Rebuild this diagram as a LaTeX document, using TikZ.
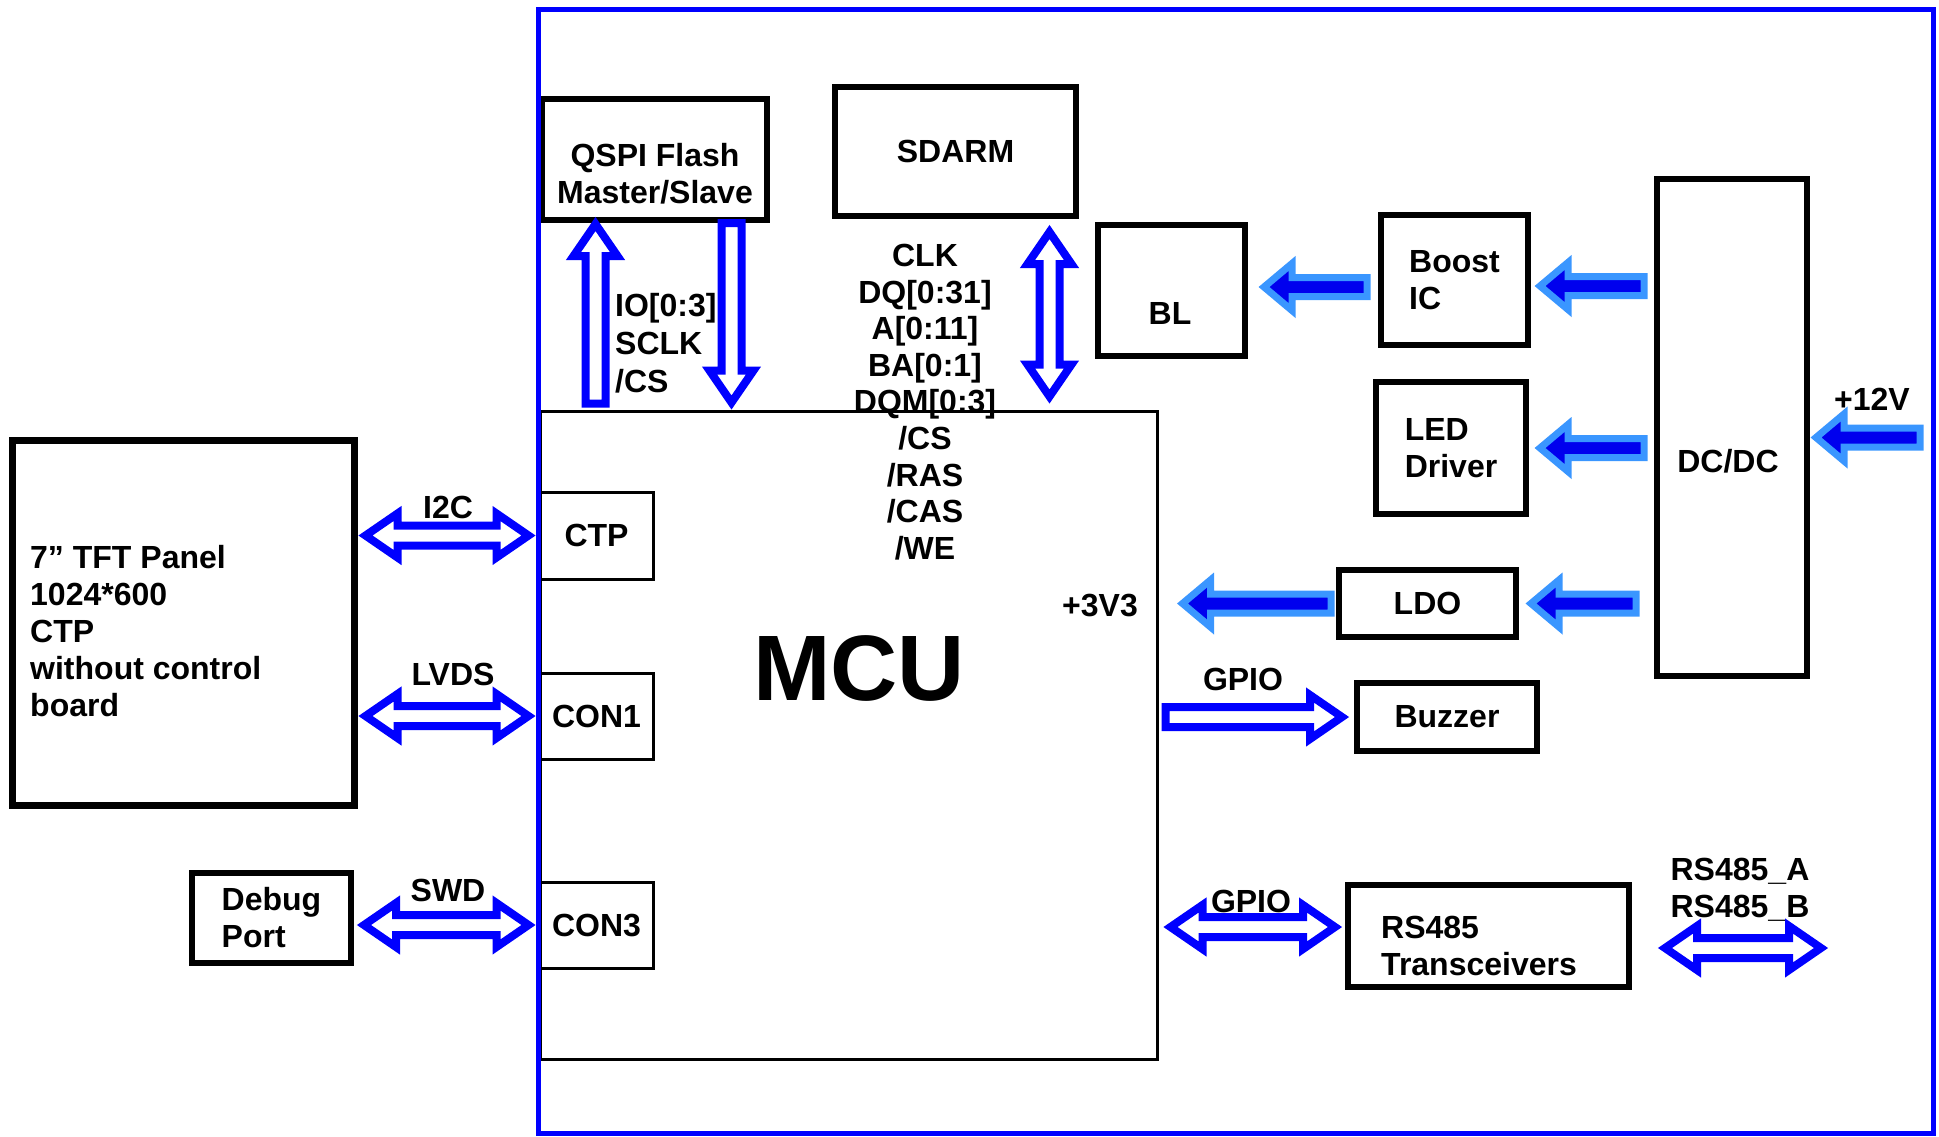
\documentclass[tikz,border=0pt]{standalone}
\usepackage{fontspec}
\setmainfont{Liberation Sans}
\usetikzlibrary{calc}

\definecolor{frameblue}{RGB}{0,0,255}
\definecolor{pwrdark}{RGB}{0,0,238}
\definecolor{pwrlight}{RGB}{58,150,255}

\tikzset{
  blk shaft/.store in=\blkA, blk head/.store in=\blkB, blk len/.store in=\blkH,
  blk shaft=10pt, blk head=22pt, blk len=32pt,
  % block arrow with a head at both ends
  dblarrow/.style={to path={
    ($(\tikztostart)!\blkH!(\tikztotarget)$) coordinate (ba-m1)
    ($(\tikztotarget)!\blkH!(\tikztostart)$) coordinate (ba-m2)
    (\tikztostart)
    -- ($(ba-m1)!\blkB!90:(\tikztotarget)$)
    -- ($(ba-m1)!\blkA!90:(\tikztotarget)$)
    -- ($(ba-m2)!\blkA!-90:(\tikztostart)$)
    -- ($(ba-m2)!\blkB!-90:(\tikztostart)$)
    -- (\tikztotarget)
    -- ($(ba-m2)!\blkB!90:(\tikztostart)$)
    -- ($(ba-m2)!\blkA!90:(\tikztostart)$)
    -- ($(ba-m1)!\blkA!-90:(\tikztotarget)$)
    -- ($(ba-m1)!\blkB!-90:(\tikztotarget)$)
    -- cycle}},
  % block arrow, head at the target only
  sglarrow/.style={to path={
    ($(\tikztotarget)!\blkH!(\tikztostart)$) coordinate (ba-m2)
    (\tikztostart)
    -- ($(\tikztostart)!\blkA!90:(\tikztotarget)$)
    -- ($(ba-m2)!\blkA!-90:(\tikztostart)$)
    -- ($(ba-m2)!\blkB!-90:(\tikztostart)$)
    -- (\tikztotarget)
    -- ($(ba-m2)!\blkB!90:(\tikztostart)$)
    -- ($(ba-m2)!\blkA!90:(\tikztostart)$)
    -- ($(\tikztostart)!\blkA!-90:(\tikztotarget)$)
    -- cycle}},
  hollow/.style={draw=frameblue, fill=white, line width=8},
  power/.style={draw=pwrlight, fill=pwrdark, line width=7,
    blk shaft=9.5pt, blk head=23.5pt, blk len=28pt},
  lbl/.style={font=\bfseries\fontsize{32}{37}\selectfont, inner sep=0pt},
  thickbox/.style={draw, line width=6, inner sep=0pt, lbl},
  thinbox/.style={draw, line width=3, inner sep=0pt, lbl},
}

\begin{document}
\begin{tikzpicture}[x=1pt, y=-1pt]
    \useasboundingbox (0,0) rectangle (1939,1136);

    % blocks
    \node[thickbox, minimum width=225, minimum height=121] (qspi) at (654.5,159.5) {};
    \node[thickbox, minimum width=241, minimum height=129] (sdram) at (955.5,151.5) {SDARM};
    \node[thinbox, minimum width=617, minimum height=648] (mcu) at (848.5,735) {};
    \node[thinbox, minimum width=113, minimum height=87] (ctp) at (596.5,535.5) {CTP};
    \node[thinbox, minimum width=113, minimum height=86] (con1) at (596.5,716) {CON1};
    \node[thinbox, minimum width=113, minimum height=86] (con3) at (596.5,925) {CON3};
    \node[thickbox, line width=7, minimum width=342, minimum height=365] (tft) at (183,622.5) {};
    \node[thickbox, minimum width=159, minimum height=90, align=left] (dbg) at (271.5,918) {Debug\\Port};
    \node[thickbox, minimum width=147, minimum height=131] (bl) at (1171.5,290.5) {};
    \node[thickbox, minimum width=147, minimum height=130, align=left] (boost) at (1454.5,280) {Boost\\IC};
    \node[thickbox, minimum width=150, minimum height=132, align=left] (led) at (1451,448) {LED\\Driver};
    \node[thickbox, minimum width=177, minimum height=67] (ldo) at (1427.5,603.5) {LDO};
    \node[thickbox, minimum width=150, minimum height=497] (dcdc) at (1732,427.5) {};
    \node[thickbox, minimum width=180, minimum height=68] (buzzer) at (1447,717) {Buzzer};
    \node[thickbox, minimum width=281, minimum height=102] (rs485) at (1488.5,936) {};

    % texts
    \node[lbl, align=center] at (655,174) {QSPI Flash\\Master/Slave};
    \node[lbl] at (1170,313) {BL};
    \node[lbl] at (1728,461) {DC/DC};
    \node[lbl, align=left, anchor=west] at (30,631) {7” TFT Panel\\1024*600\\CTP\\without control\\board};
    \node[lbl, align=left, anchor=west] at (1381,946) {RS485\\Transceivers};
    \node[font=\bfseries\fontsize{93}{100}\selectfont, inner sep=0pt] at (859,668) {MCU};
    \node[lbl, align=left, anchor=west, font=\bfseries\fontsize{32}{38}\selectfont] at (615,343) {IO[0:3]\\SCLK\\/CS};
    \node[lbl, align=center, font=\bfseries\fontsize{32}{36.6}\selectfont] at (925,402) {CLK\\DQ[0:31]\\A[0:11]\\BA[0:1]\\DQM[0:3]\\/CS\\/RAS\\/CAS\\/WE};
    \node[lbl] at (1100,605) {+3V3};
    \node[lbl] at (1872,399) {+12V};
    \node[lbl, align=center] at (1740,890) {RS485\_A\\RS485\_B};
    \node[lbl] at (1243,679) {GPIO};
    \node[lbl] at (1251,901) {GPIO};
    \node[lbl] at (448,507) {I2C};
    \node[lbl] at (453,674) {LVDS};
    \node[lbl] at (448,890) {SWD};

    % board outline
    \draw[frameblue, line width=5] (538,9) rectangle (1933,1133);

    % arrow ends
    \coordinate (i2c-l) at ([xshift=8]tft.east |- ctp.west);
    \coordinate (i2c-r) at ([xshift=-10]ctp.west);
    \coordinate (lvds-l) at ([xshift=8]tft.east |- con1.west);
    \coordinate (lvds-r) at ([xshift=-10]con1.west);
    \coordinate (swd-l) at ([xshift=10]dbg.east |- con3.west);
    \coordinate (swd-r) at ([xshift=-10]con3.west);
    \coordinate (bz-t) at ([xshift=-12]buzzer.west);
    \coordinate (bz-s) at ([xshift=7]mcu.east |- bz-t);
    \coordinate (gp-r) at ([xshift=-10,yshift=9]rs485.west);
    \coordinate (gp-l) at ([xshift=12]mcu.east |- gp-r);
    \coordinate (bus-l) at ([xshift=33,yshift=-12]rs485.east);
    \coordinate (bus-r) at (1821,948);
    \coordinate (qup-t) at ([xshift=-59,yshift=-1]qspi.south);
    \coordinate (qup-s) at ([yshift=6]mcu.north -| qup-t);
    \coordinate (qdn-s) at ([xshift=77]qspi.south);
    \coordinate (qdn-t) at ([yshift=7]mcu.north -| qdn-s);
    \coordinate (sd-t) at ([xshift=94,yshift=-13]sdram.south);
    \coordinate (sd-b) at ([yshift=13]mcu.north -| sd-t);
    \coordinate (bl-s) at ([xshift=-11,yshift=-7]boost.west);
    \coordinate (bl-t) at ([xshift=16]bl.east |- bl-s);
    \coordinate (bst-t) at ([xshift=9,yshift=-6]boost.east);
    \coordinate (bst-s) at ([xshift=-10]dcdc.west |- bst-t);
    \coordinate (led-t) at ([xshift=11]led.east);
    \coordinate (led-s) at ([xshift=-10]dcdc.west |- led.east);
    \coordinate (ldo-t) at ([xshift=12]ldo.east);
    \coordinate (ldo-s) at ([xshift=-18]dcdc.west |- ldo.east);
    \coordinate (v33-s) at ([xshift=-5]ldo.west);
    \coordinate (v33-t) at ([xshift=24]mcu.east |- ldo.west);
    \coordinate (vin-t) at ([xshift=6,yshift=-10]dcdc.east);
    \coordinate (vin-s) at (1920,437.5);

    % signal arrows
    \draw[hollow] (i2c-l) to[dblarrow] (i2c-r);
    \draw[hollow] (lvds-l) to[dblarrow] (lvds-r);
    \draw[hollow] (swd-l) to[dblarrow] (swd-r);
    \draw[hollow] (bz-s) to[sglarrow] (bz-t);
    \draw[hollow] (gp-l) to[dblarrow] (gp-r);
    \draw[hollow] (bus-l) to[dblarrow] (bus-r);
    \draw[hollow] (qup-s) to[sglarrow] (qup-t);
    \draw[hollow] (qdn-s) to[sglarrow] (qdn-t);
    \draw[hollow] (sd-t) to[dblarrow] (sd-b);

    % power arrows
    \draw[power] (bl-s) to[sglarrow] (bl-t);
    \draw[power] (bst-s) to[sglarrow] (bst-t);
    \draw[power] (led-s) to[sglarrow] (led-t);
    \draw[power] (ldo-s) to[sglarrow] (ldo-t);
    \draw[power] (v33-s) to[sglarrow] (v33-t);
    \draw[power] (vin-s) to[sglarrow] (vin-t);
\end{tikzpicture}
\end{document}
